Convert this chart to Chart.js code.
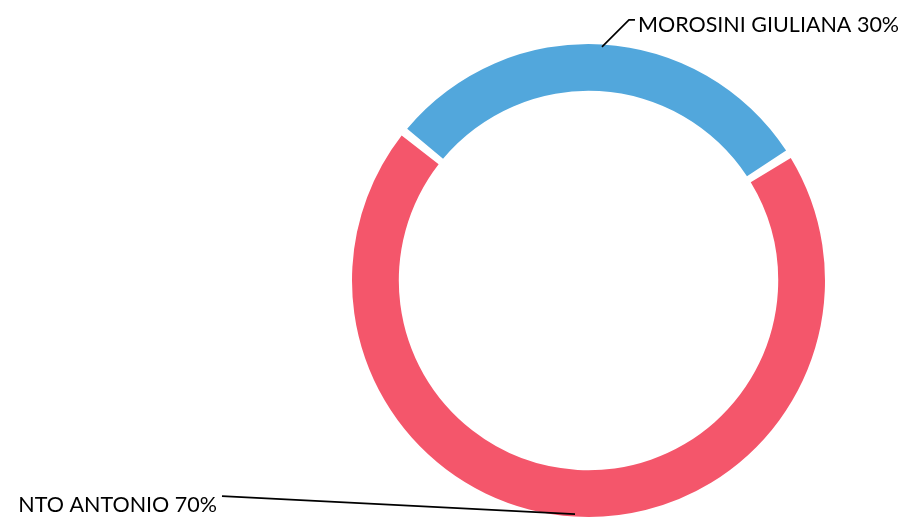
<!DOCTYPE html>
<html><head><meta charset="utf-8">
<script src="https://cdn.jsdelivr.net/npm/chart.js@4"></script>
<style>html,body{margin:0;padding:0;background:#fff;}#wrap{width:911px;height:520px;}</style>
</head><body><div id="wrap"><canvas id="c" width="911" height="520"></canvas></div>
<script>
const labels = ["MOROSINI GIULIANA", "NTO ANTONIO"];
const values = [30, 70];
const colors = ["#52a7dc", "#f4566b"];

const leaderPlugin = {
  id: 'leader',
  afterDatasetsDraw(chart) {
    const ctx = chart.ctx;
    const meta = chart.getDatasetMeta(0);
    const total = values.reduce((a, b) => a + b, 0);
    ctx.save();
    ctx.font = '21.5px Lato';
    ctx.fillStyle = '#000';
    ctx.strokeStyle = '#000';
    ctx.lineWidth = 1.6;
    ctx.textBaseline = 'alphabetic';
    meta.data.forEach((arc, i) => {
      const mid = (arc.startAngle + arc.endAngle) / 2;
      const ax = arc.x + Math.cos(mid) * arc.outerRadius;
      const ay = arc.y + Math.sin(mid) * arc.outerRadius;
      const txt = labels[i] + ' ' + Math.round(values[i] / total * 100) + '%';
      ctx.beginPath();
      if (i === 0) {
        const ex = ax + 27, ey = ay - 27;
        ctx.moveTo(ax, ay); ctx.lineTo(ex, ey); ctx.lineTo(ex + 6, ey); ctx.stroke();
        ctx.textAlign = 'left';
        ctx.fillText(txt, ex + 9, ey + 12);
      } else {
        const ex = 222, ey = ay - 18;
        ctx.moveTo(ax, ay); ctx.lineTo(ex, ey); ctx.stroke();
        ctx.textAlign = 'right';
        ctx.fillText(txt, ex - 5, ey + 16);
      }
    });
    ctx.restore();
  }
};

new Chart(document.getElementById('c'), {
  type: 'doughnut',
  data: { labels: labels, datasets: [{ data: values, backgroundColor: colors, borderColor: '#fff', borderWidth: 0, spacing: 5 }] },
  options: {
    responsive: false,
    animation: false,
    rotation: -50.7,
    cutout: '80%',
    layout: { padding: { left: 352, right: 86, top: 44, bottom: 3 } },
    plugins: { legend: { display: false }, tooltip: { enabled: false } }
  },
  plugins: [leaderPlugin]
});
</script></body></html>
